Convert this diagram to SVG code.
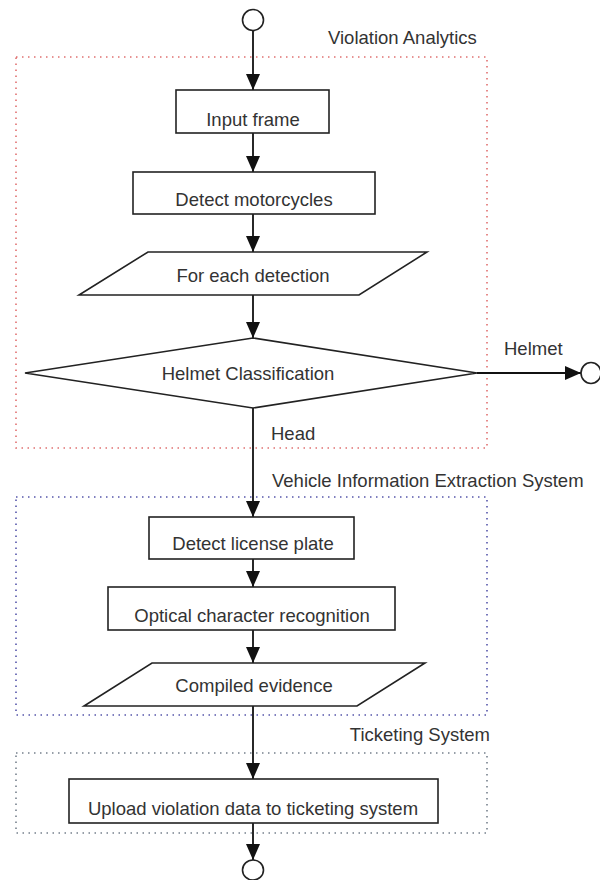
<svg xmlns="http://www.w3.org/2000/svg" width="600" height="880" viewBox="0 0 600 880">
<style>
  .node { fill: #fff; stroke: #222; stroke-width: 1.6; }
  .term { fill: #fff; stroke: #222; stroke-width: 1.6; }
  .lbl { font-family: "Liberation Sans", Arial, sans-serif; font-size: 18.5px; fill: #333; }
  .c { text-anchor: middle; }
  .edge { stroke: #111; stroke-width: 1.8; fill: none; marker-end: url(#arr); }
  .grp { fill: none; stroke-width: 1.6; stroke-dasharray: 1.5 4.5; }
</style>
<defs>
  <marker id="arr" markerUnits="userSpaceOnUse" markerWidth="16" markerHeight="14" refX="16" refY="7" orient="auto">
    <path d="M0,0 L16,7 L0,14 z" fill="#111"/>
  </marker>
</defs>
<rect width="600" height="880" fill="#fff"/>

<g id="groups">
  <g id="violation-analytics">
    <rect class="grp" x="16" y="57" width="471" height="391" stroke="#e07070"/>
    <text class="lbl" x="328" y="44">Violation Analytics</text>
  </g>
  <g id="vehicle-info">
    <rect class="grp" x="16" y="497" width="471" height="218" stroke="#5555aa"/>
    <text class="lbl" x="272" y="487">Vehicle Information Extraction System</text>
  </g>
  <g id="ticketing">
    <rect class="grp" x="16" y="753" width="471" height="80" stroke="#76808c"/>
    <text class="lbl" x="490" y="741" text-anchor="end">Ticketing System</text>
  </g>
</g>

<g id="connectors">
  <line class="edge" x1="253" y1="31" x2="253" y2="90"/>
  <line class="edge" x1="253" y1="133" x2="253" y2="172"/>
  <line class="edge" x1="253" y1="214" x2="253" y2="252"/>
  <line class="edge" x1="253" y1="295" x2="253" y2="338"/>
  <line class="edge" x1="253" y1="408" x2="253" y2="517"/>
  <line class="edge" x1="253" y1="559" x2="253" y2="587"/>
  <line class="edge" x1="253" y1="630" x2="253" y2="663"/>
  <line class="edge" x1="253" y1="706" x2="253" y2="779"/>
  <line class="edge" x1="253" y1="823" x2="253" y2="860"/>
  <line class="edge" x1="477" y1="373" x2="581" y2="373"/>
  <text class="lbl" x="504" y="355">Helmet</text>
  <text class="lbl" x="271" y="440">Head</text>
</g>

<g id="start"><ellipse class="term" cx="253" cy="20" rx="10.5" ry="10.5"/></g>
<g id="end-helmet"><ellipse class="term" cx="591" cy="373" rx="10" ry="10.5"/></g>
<g id="end"><ellipse class="term" cx="253" cy="870" rx="10.5" ry="10"/></g>

<g id="input-frame">
  <rect class="node" x="176" y="90" width="153" height="43"/>
  <text class="lbl c" x="253" y="126">Input frame</text>
</g>
<g id="detect-motorcycles">
  <rect class="node" x="133" y="172" width="242" height="42"/>
  <text class="lbl c" x="254" y="206">Detect motorcycles</text>
</g>
<g id="for-each-detection">
  <polygon class="node" points="148,252 427,252 359,295 79,295"/>
  <text class="lbl c" x="253" y="282">For each detection</text>
</g>
<g id="helmet-classification">
  <polygon class="node" points="253,338 477,373 253,408 25,373"/>
  <text class="lbl c" x="248" y="380">Helmet Classification</text>
</g>
<g id="detect-license-plate">
  <rect class="node" x="149" y="517" width="205" height="42"/>
  <text class="lbl c" x="253" y="550">Detect license plate</text>
</g>
<g id="ocr">
  <rect class="node" x="108" y="587" width="287" height="43"/>
  <text class="lbl c" x="252" y="622">Optical character recognition</text>
</g>
<g id="compiled-evidence">
  <polygon class="node" points="152,663 425,663 357,706 84,706"/>
  <text class="lbl c" x="254" y="692">Compiled evidence</text>
</g>
<g id="upload">
  <rect class="node" x="69" y="779" width="369" height="44"/>
  <text class="lbl c" x="253" y="815">Upload violation data to ticketing system</text>
</g>
</svg>
